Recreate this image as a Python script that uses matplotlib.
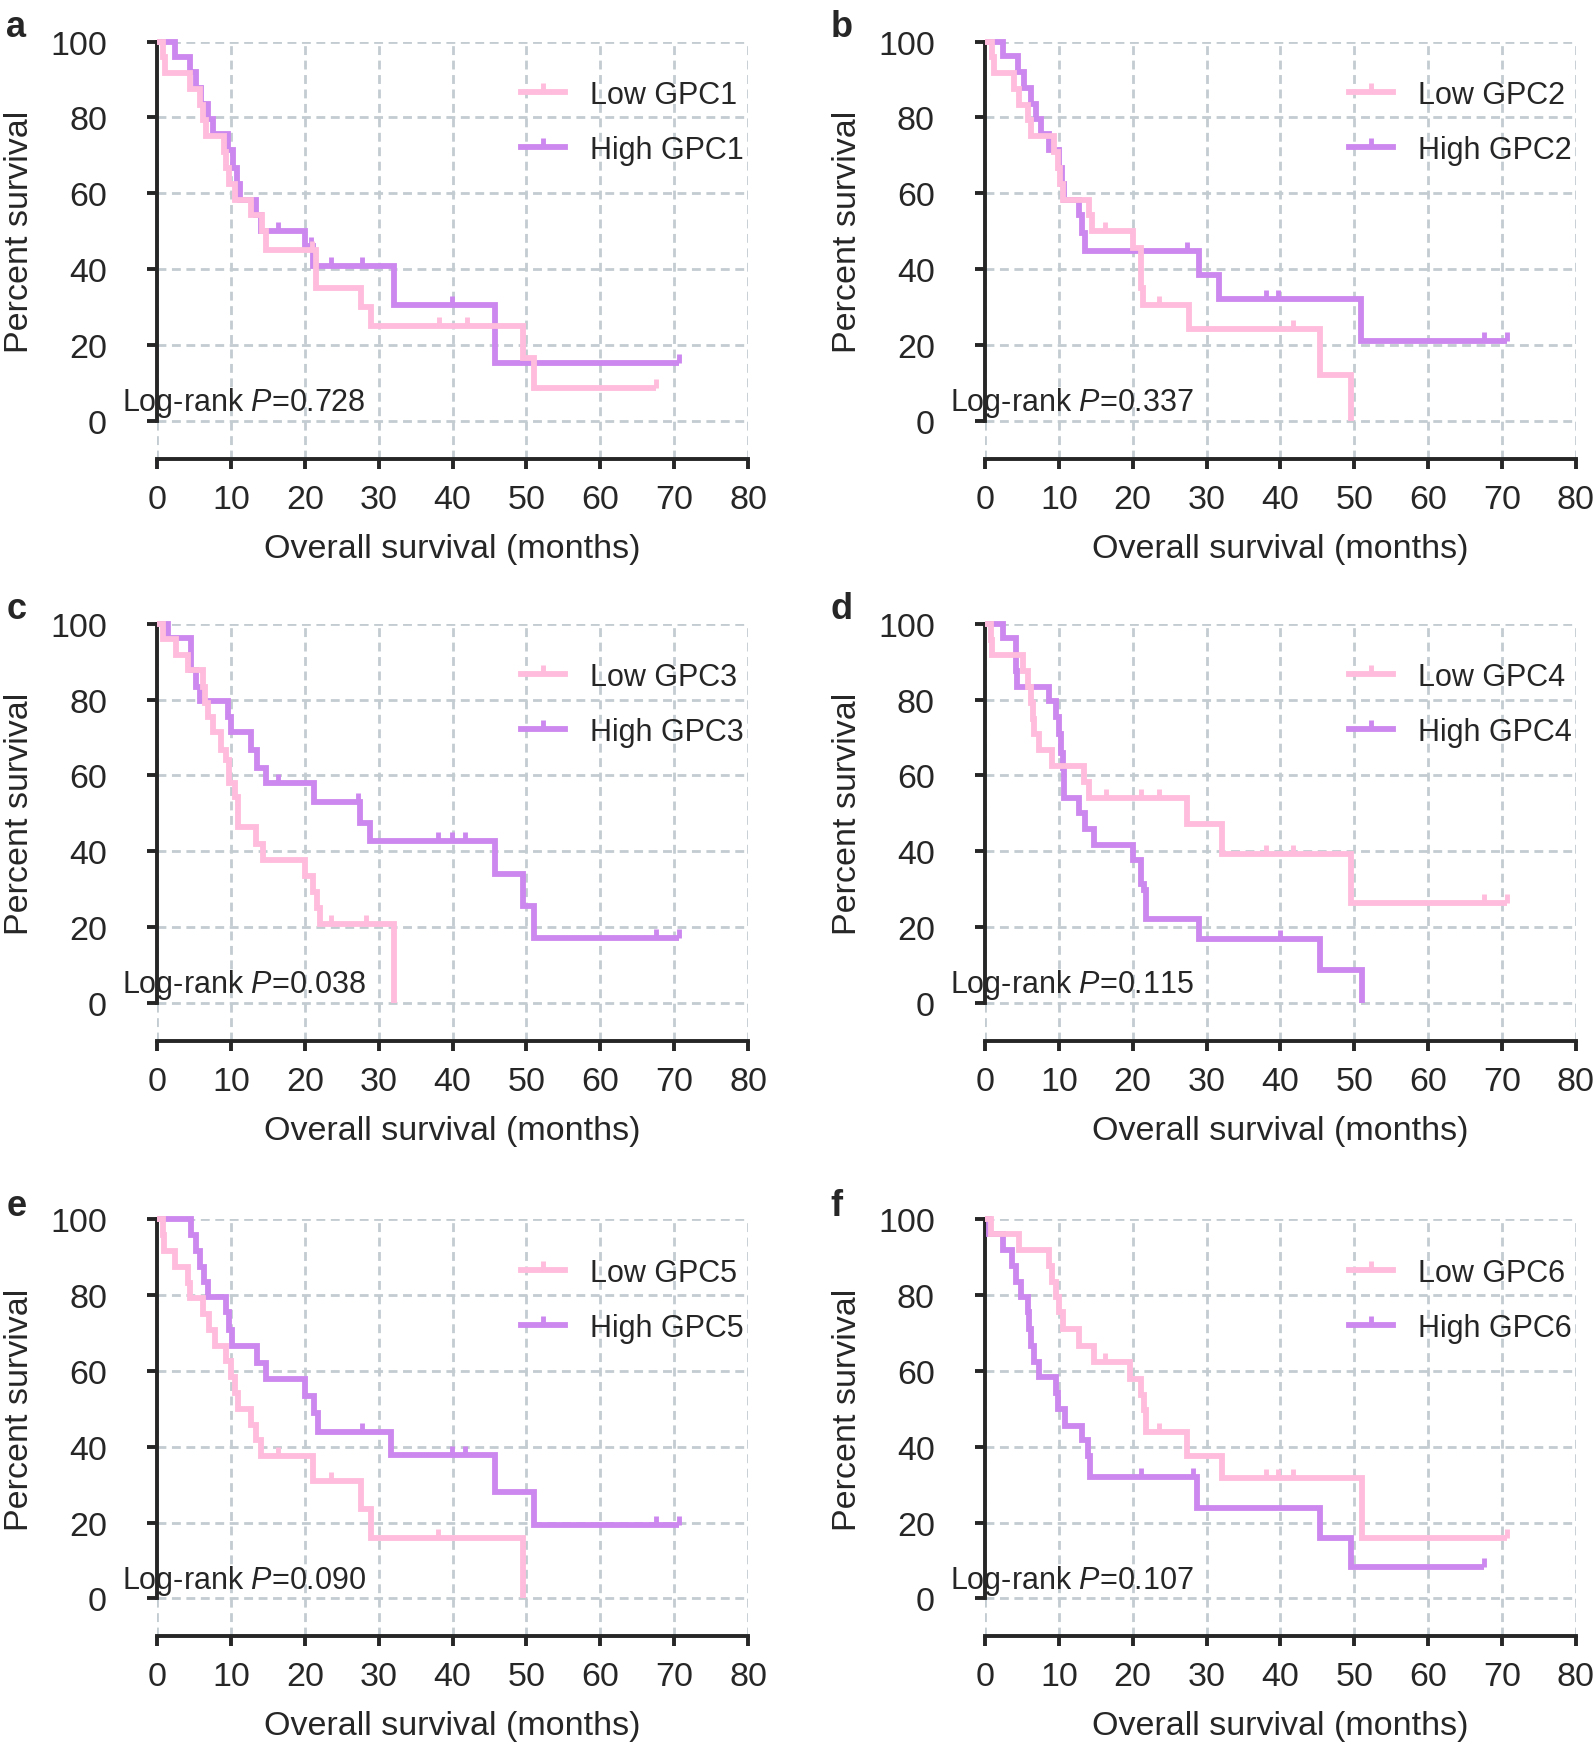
import numpy as np
import matplotlib
matplotlib.use("Agg")
import matplotlib.pyplot as plt
from matplotlib.path import Path
from matplotlib.lines import Line2D

plt.rcParams['font.family'] = ['Liberation Sans', 'DejaVu Sans']
plt.rcParams['mathtext.fontset'] = 'custom'
plt.rcParams['mathtext.rm'] = 'Liberation Sans'
plt.rcParams['mathtext.it'] = 'Liberation Sans:italic'

# ---- data (months, percent survival) ----
low1_t = [0, 0.8, 1.1, 4.4, 5.8, 6.2, 6.6, 9.0, 9.4, 9.8, 10.5, 12.7, 14.2, 14.8, 21.5, 27.6, 29.0, 49.6, 51.0]
low1_s = [100, 95.8, 91.7, 87.5, 83.3, 79.2, 75.0, 70.8, 66.7, 62.5, 58.3, 54.2, 50.0, 44.9, 35.0, 30.0, 25.0, 16.5, 8.5]
low1_c = [21.0, 38.2, 41.9, 67.5]
high1_t = [0, 2.4, 4.4, 5.3, 5.9, 6.9, 7.6, 9.6, 10.3, 10.8, 11.2, 13.4, 14.1, 20.0, 21.1, 32.1, 45.7]
high1_s = [100, 96.0, 92.0, 87.8, 83.4, 79.5, 75.5, 71.5, 66.7, 62.5, 58.3, 54.2, 50.0, 46.0, 40.8, 30.6, 15.3]
high1_c = [16.4, 20.8, 23.6, 27.8, 39.9, 70.7]

low2_t = [0, 0.9, 1.2, 4.0, 4.6, 5.8, 6.2, 9.4, 9.9, 10.2, 10.5, 14.1, 14.5, 20.0, 21.1, 21.4, 27.6, 45.4, 49.6]
low2_s = [100, 95.8, 91.7, 87.5, 83.3, 79.2, 75.0, 70.8, 66.7, 62.5, 58.3, 54.2, 50.0, 45.6, 35.0, 30.5, 24.3, 12.0, 0]
low2_c = [16.3, 23.6, 41.7]
high2_t = [0, 2.4, 4.5, 5.3, 6.2, 6.9, 7.6, 8.7, 10.0, 10.4, 10.7, 12.7, 13.2, 13.6, 29.0, 31.7, 50.9]
high2_s = [100, 96.2, 92.0, 87.8, 83.4, 79.5, 75.5, 71.5, 66.7, 62.5, 58.3, 54.2, 49.5, 44.8, 38.4, 32.1, 21.1]
high2_c = [27.4, 38.0, 39.6, 67.5, 70.7]

low3_t = [0, 0.8, 2.6, 4.2, 6.2, 6.5, 6.9, 7.6, 8.7, 9.4, 9.8, 10.5, 10.9, 13.4, 14.3, 20.0, 21.1, 21.7, 22.0, 32.1]
low3_s = [100, 96.0, 91.8, 87.8, 83.3, 79.2, 75.5, 71.5, 66.7, 64.0, 58.0, 54.4, 46.4, 42.0, 37.6, 33.5, 29.3, 25.0, 20.9, 0]
low3_c = [23.6, 28.3]
high3_t = [0, 1.5, 4.6, 5.3, 5.8, 9.6, 10.0, 12.7, 13.6, 14.8, 21.3, 27.5, 28.8, 45.7, 49.6, 51.0]
high3_s = [100, 96.2, 87.8, 83.4, 79.5, 75.5, 71.5, 66.7, 61.9, 57.9, 53.0, 47.5, 42.7, 33.9, 25.5, 17.2]
high3_c = [16.4, 27.2, 38.0, 39.9, 41.7, 67.5, 70.7]

low4_t = [0, 0.8, 1.0, 5.1, 5.8, 6.2, 6.5, 6.7, 7.3, 9.1, 13.4, 14.1, 27.4, 32.1, 49.6]
low4_s = [100, 95.8, 91.7, 87.5, 83.3, 79.2, 75.0, 71.0, 66.7, 62.5, 58.3, 54.0, 47.3, 39.2, 26.4]
low4_c = [16.4, 21.1, 23.6, 38.0, 41.7, 67.5, 70.7]
high4_t = [0, 2.4, 4.2, 4.4, 8.7, 9.6, 10.0, 10.3, 10.5, 10.7, 12.7, 13.6, 14.8, 20.0, 21.1, 21.5, 21.8, 29.0, 45.4, 51.0]
high4_s = [100, 96.2, 87.5, 83.4, 79.5, 75.5, 71.0, 65.8, 62.0, 54.0, 50.0, 46.0, 41.6, 37.6, 31.5, 29.7, 22.2, 16.9, 8.8, 0]
high4_c = [39.9]

low5_t = [0, 0.8, 1.0, 2.4, 4.2, 4.4, 6.2, 7.1, 7.8, 9.4, 10.0, 10.5, 10.9, 12.7, 13.4, 14.1, 21.1, 27.6, 29.0, 49.6]
low5_s = [100, 95.8, 91.7, 87.5, 83.3, 79.2, 75.0, 70.8, 66.7, 62.5, 58.3, 54.2, 50.0, 45.8, 41.7, 37.5, 31.1, 23.5, 15.9, 0]
low5_c = [16.4, 23.6, 38.0]
high5_t = [0, 4.6, 5.3, 5.8, 6.4, 6.9, 9.4, 9.8, 10.2, 13.6, 14.8, 20.0, 21.3, 21.8, 31.7, 45.7, 51.0]
high5_s = [100, 95.8, 91.7, 87.5, 83.4, 79.5, 75.5, 70.8, 66.7, 62.0, 57.9, 53.5, 49.0, 44.0, 37.8, 28.2, 19.4]
high5_c = [27.8, 39.9, 41.7, 67.5, 70.7]

low6_t = [0, 0.8, 4.6, 8.7, 9.1, 9.6, 10.0, 10.5, 12.7, 14.8, 19.7, 21.1, 21.5, 21.8, 27.4, 32.1, 51.0]
low6_s = [100, 96.2, 92.0, 87.8, 83.4, 79.5, 75.5, 71.0, 66.7, 62.4, 58.0, 53.6, 49.6, 43.9, 37.7, 31.7, 15.9]
low6_c = [16.3, 23.6, 38.0, 39.6, 41.7, 70.7]
high6_t = [0, 0.6, 2.4, 3.7, 4.2, 4.9, 5.8, 6.0, 6.2, 6.7, 7.3, 9.6, 9.9, 10.8, 13.2, 13.9, 14.2, 28.7, 45.4, 49.6]
high6_s = [100, 96.2, 92.0, 87.8, 83.4, 79.5, 75.5, 71.0, 66.7, 62.4, 58.4, 54.2, 50.0, 45.6, 41.7, 37.5, 32.0, 23.8, 15.9, 8.4]
high6_c = [21.1, 28.1, 67.5]

ends_low = [67.5, 49.6, 32.1, 70.7, 49.6, 70.7]
ends_high = [70.7, 70.7, 70.7, 51.0, 70.7, 67.5]
p_values = ["0.728", "0.337", "0.038", "0.115", "0.090", "0.107"]
genes = ["GPC1", "GPC2", "GPC3", "GPC4", "GPC5", "GPC6"]
letters = ["a", "b", "c", "d", "e", "f"]

lows = [(low1_t, low1_s, low1_c), (low2_t, low2_s, low2_c), (low3_t, low3_s, low3_c),
        (low4_t, low4_s, low4_c), (low5_t, low5_s, low5_c), (low6_t, low6_s, low6_c)]
highs = [(high1_t, high1_s, high1_c), (high2_t, high2_s, high2_c), (high3_t, high3_s, high3_c),
         (high4_t, high4_s, high4_c), (high5_t, high5_s, high5_c), (high6_t, high6_s, high6_c)]

PINK = '#ffbcdc'
PURPLE = '#cc88ee'
GRID = '#c3ccd1'
INK = '#262626'
LW = 4.2

tick = Path([(0, 0), (0, 1)], [Path.MOVETO, Path.LINETO])


def km(ax, t, s, cens, end, color):
    x = list(t) + [end]
    y = list(s) + [s[-1]]
    ax.step(x, y, where='post', color=color, lw=LW, solid_joinstyle='miter',
            solid_capstyle='butt', clip_on=False, zorder=3)
    cy = [s[np.searchsorted(t, c, side='right') - 1] for c in cens]
    ax.plot(cens, cy, ls='none', marker=tick, ms=13, mew=3.5, color=color,
            clip_on=False, zorder=3)


fig = plt.figure(figsize=(15.94, 17.49), dpi=100)
lefts = [0.0985, 0.6179]
bottoms = [0.7372, 0.4043, 0.0638]
W, H = 0.3708, 0.2385
letter_x = [0.004, 0.521]
letter_y = [0.9788, 0.646, 0.3048]

for i in range(6):
    r, c = divmod(i, 2)
    ax = fig.add_axes([lefts[c], bottoms[r], W, H])
    ax.set_xlim(0, 80)
    ax.set_ylim(-10, 100)
    ax.set_xticks(range(0, 81, 10))
    ax.set_yticks(range(0, 101, 20))
    ax.grid(True, ls=(0, (3.2, 2.0)), lw=2.0, color=GRID, zorder=0)
    ax.set_axisbelow(True)
    for sp in ['top', 'right']:
        ax.spines[sp].set_visible(False)
    for sp in ['left', 'bottom']:
        ax.spines[sp].set_linewidth(2.8)
        ax.spines[sp].set_color(INK)
    ax.spines['left'].set_bounds(0, 100)
    ax.tick_params(axis='both', direction='out', length=7, width=2.8,
                   color=INK, labelsize=24.5, labelcolor=INK)
    ax.tick_params(axis='x', pad=11)
    ax.tick_params(axis='y', pad=29)

    ht, hs, hc = highs[i]
    lt, ls_, lc = lows[i]
    km(ax, ht, hs, hc, ends_high[i], PURPLE)
    km(ax, lt, ls_, lc, ends_low[i], PINK)

    ax.set_xlabel("Overall survival (months)", fontsize=24.5, color=INK, labelpad=13)
    ax.set_ylabel("Percent survival", fontsize=24.5, color=INK)
    ax.yaxis.set_label_coords(-0.207, 60 / 110)

    ax.text(-4.7, 5.0, r"Log-rank $\mathit{P}$=" + p_values[i], fontsize=22,
            color=INK, va='center', ha='left', zorder=5)

    handles = [Line2D([], [], color=PINK, lw=LW, marker=tick, ms=13, mew=3.5),
               Line2D([], [], color=PURPLE, lw=LW, marker=tick, ms=13, mew=3.5)]
    leg = ax.legend(handles, ["Low " + genes[i], "High " + genes[i]], loc='upper left',
                    bbox_to_anchor=(0.616, 0.908), frameon=False, fontsize=22,
                    handlelength=1.45, handletextpad=0.8, labelspacing=0.82,
                    borderpad=0, borderaxespad=0, numpoints=1)
    for txt in leg.get_texts():
        txt.set_color(INK)

    fig.text(letter_x[c], letter_y[r], letters[i], fontsize=26, fontweight='bold',
             color=INK, va='baseline', ha='left')

fig.savefig("out.png", dpi=100)
